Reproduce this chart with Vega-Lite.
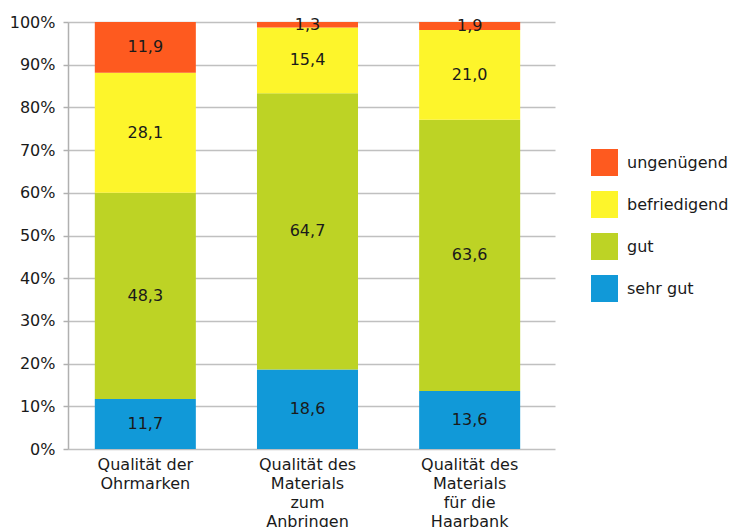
{
  "$schema": "https://vega.github.io/schema/vega-lite/v6.json",
  "width": 487,
  "height": 427,
  "autosize": "none",
  "padding": {"left": 68, "top": 22, "right": 177, "bottom": 78},
  "background": "white",
  "config": {
    "locale": {"number": {"decimal": ",", "thousands": ".", "grouping": [3], "currency": ["", " €"]}},
    "font": "DejaVu Sans",
    "view": {"stroke": null},
    "axis": {"labelFont": "DejaVu Sans", "labelFontSize": 16, "labelColor": "#1a1a1a"},
    "axisY": {
      "format": ".0%",
      "values": [0, 0.1, 0.2, 0.3, 0.4, 0.5, 0.6, 0.7, 0.8, 0.9, 1],
      "labelOverlap": false,
      "grid": true,
      "gridColor": "#c0c0c0",
      "gridWidth": 1.5,
      "domainColor": "#b0b0b0",
      "domainWidth": 1.5,
      "tickColor": "#b0b0b0",
      "tickWidth": 1.5,
      "tickSize": 5,
      "labelPadding": 8
    }
  },
  "data": {
    "values": [
      {"kategorie": "Qualität der|Ohrmarken", "bewertung": "sehr gut", "rang": 1, "wert": 11.7},
      {"kategorie": "Qualität der|Ohrmarken", "bewertung": "gut", "rang": 2, "wert": 48.3},
      {"kategorie": "Qualität der|Ohrmarken", "bewertung": "befriedigend", "rang": 3, "wert": 28.1},
      {"kategorie": "Qualität der|Ohrmarken", "bewertung": "ungenügend", "rang": 4, "wert": 11.9},
      {"kategorie": "Qualität des|Materials|zum|Anbringen", "bewertung": "sehr gut", "rang": 1, "wert": 18.6},
      {"kategorie": "Qualität des|Materials|zum|Anbringen", "bewertung": "gut", "rang": 2, "wert": 64.7},
      {"kategorie": "Qualität des|Materials|zum|Anbringen", "bewertung": "befriedigend", "rang": 3, "wert": 15.4},
      {"kategorie": "Qualität des|Materials|zum|Anbringen", "bewertung": "ungenügend", "rang": 4, "wert": 1.3},
      {"kategorie": "Qualität des|Materials|für die|Haarbank", "bewertung": "sehr gut", "rang": 1, "wert": 13.6},
      {"kategorie": "Qualität des|Materials|für die|Haarbank", "bewertung": "gut", "rang": 2, "wert": 63.6},
      {"kategorie": "Qualität des|Materials|für die|Haarbank", "bewertung": "befriedigend", "rang": 3, "wert": 21.0},
      {"kategorie": "Qualität des|Materials|für die|Haarbank", "bewertung": "ungenügend", "rang": 4, "wert": 1.9}
    ]
  },
  "transform": [
    {"stack": "wert", "groupby": ["kategorie"], "sort": [{"field": "rang", "order": "ascending"}], "offset": "normalize", "as": ["y0", "y1"]},
    {"calculate": "(datum.y0 + datum.y1) / 2", "as": "ymid"}
  ],
  "encoding": {
    "x": {
      "field": "kategorie",
      "type": "nominal",
      "sort": null,
      "title": null,
      "scale": {"paddingInner": 0.377, "paddingOuter": 0.19, "align": 0.435},
      "axis": {
        "labelExpr": "split(datum.label, '|')",
        "labelAngle": 0,
        "labelLineHeight": 19,
        "labelPadding": 7,
        "labelBaseline": "top",
        "ticks": false,
        "domain": false,
        "grid": false
      }
    }
  },
  "layer": [
    {
      "mark": {"type": "bar", "strokeWidth": 0},
      "encoding": {
        "y": {
          "field": "y0",
          "type": "quantitative",
          "title": null,
          "scale": {"domain": [0, 1], "nice": false}
        },
        "y2": {"field": "y1"},
        "color": {
          "field": "bewertung",
          "type": "nominal",
          "scale": {
            "domain": ["ungenügend", "befriedigend", "gut", "sehr gut"],
            "range": ["#fe5a1f", "#fdf52b", "#bdd325", "#1199d8"]
          },
          "legend": {
            "title": null,
            "orient": "none",
            "legendX": 523,
            "legendY": 127,
            "symbolType": "square",
            "symbolSize": 729,
            "symbolStrokeWidth": 0,
            "symbolOpacity": 1,
            "rowPadding": 15,
            "labelFont": "DejaVu Sans",
            "labelFontSize": 16,
            "labelColor": "#1a1a1a",
            "labelOffset": 9
          }
        }
      }
    },
    {
      "mark": {"type": "text", "baseline": "middle", "align": "center", "fontSize": 16, "color": "#1a1a1a", "font": "DejaVu Sans"},
      "encoding": {
        "y": {"field": "ymid", "type": "quantitative", "title": null, "scale": {"domain": [0, 1], "nice": false}},
        "text": {"field": "wert", "type": "quantitative", "format": ".1f"}
      }
    }
  ]
}
